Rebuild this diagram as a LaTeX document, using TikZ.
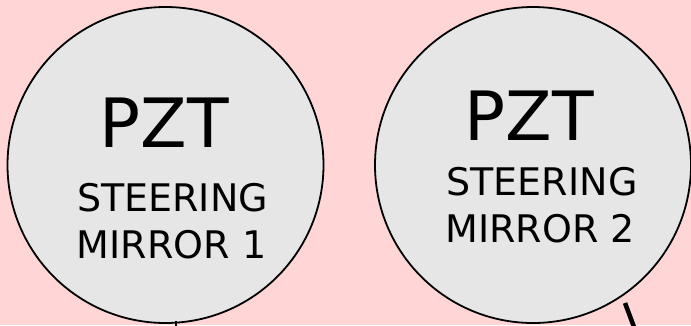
\documentclass[tikz,border=0pt]{standalone}
\usepackage{fontspec}
\setmainfont{DejaVu Sans}
\begin{document}
\begin{tikzpicture}[x=1pt,y=-1pt,
  mirror/.style={circle,draw=black,line width=1.8pt,fill=circfill,inner sep=0pt,minimum size=316pt},
  big/.style={anchor=base,inner sep=0pt,font=\fontsize{68}{68}\selectfont},
  small/.style={anchor=base,inner sep=0pt,font=\fontsize{38}{38}\selectfont},
  lead/.style={draw=black,line width=4.5pt}]
\definecolor{bgpink}{RGB}{255,213,213}
\definecolor{circfill}{RGB}{230,230,230}
\fill[bgpink] (0,0) rectangle (691,325);
\useasboundingbox (0,0) rectangle (691,325);
\node[mirror] (m1) at (165.5,165) {};
\node[mirror] (m2) at (533,165) {};
\node[big] (p1) at (164.5,147) {PZT};
\node[small] (s1) at (172.5,211) {STEERING};
\node[small] (r1) at (171.5,258) {MIRROR 1};
\node[big] (p2) at (529.5,140) {PZT};
\node[small] (s2) at (542,195) {STEERING};
\node[small] (r2) at (540,242) {MIRROR 2};
\coordinate (t1a) at (176,321);
\coordinate (t1b) at (176,326);
\draw[line width=1.2pt] (t1a) -- (t1b);
\coordinate (la) at (625,303);
\coordinate (lb) at (634,327);
\draw[lead] (la) -- (lb);
\end{tikzpicture}
\end{document}
